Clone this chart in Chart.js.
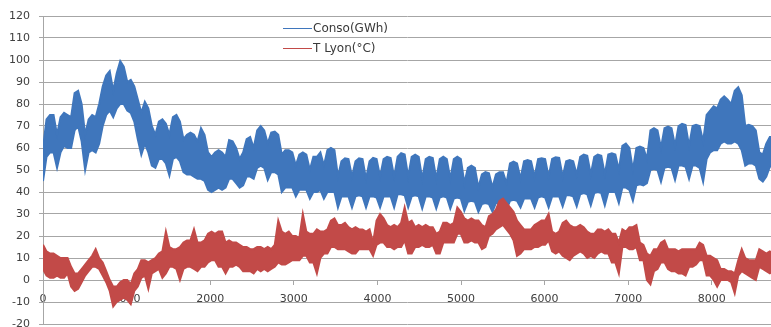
<!DOCTYPE html>
<html>
<head>
<meta charset="utf-8">
<script src="https://cdn.jsdelivr.net/npm/chart.js@4.4.1/dist/chart.umd.min.js"></script>
<style>
html,body{margin:0;padding:0;background:#fff;}
#wrap{position:relative;width:771px;height:327px;}
</style>
</head>
<body>
<div id="wrap"><canvas id="c"></canvas></div>
<script>
// ---- data (one sample every 42 hours) ----
const STEP_HOURS = 42;
const seriesNames = ["Conso(GWh)", "T Lyon(°C)"];
const xTickValues = [0,1000,2000,3000,4000,5000,6000,7000,8000];
const yTickValues = [-20,-10,0,10,20,30,40,50,60,70,80,90,100,110,120];

// consumption, upper edge of the band
const consoHigh = [
60,73,75,75, 66,74,76,75, 74,85,86,80, 66,73,75,74, 80,88,93,95, 86,94,99.5,97,
90,91,88,82, 76,81,78,70, 66,72,73,71, 66,74,75,72, 64,66,67,66, 63,69,66,58,
56,58,59,58, 56,63.6,63,60, 55,58,64,65, 60,68,70,68, 62,67,67.4,66, 57,59,59,58,
52,57,58,57, 50,56,56,58, 52,59,60,59,
47,54,55.3,55, 47,54,55.3,55, 46,54,55.5,55, 47,55,56,55.5, 47,56,57.6,57,
47,56,57,56, 46,55,56,55.5, 46,55,56,55, 46,55,56,55, 44,51,52,51,
42,48,49,48.5, 42,48,49,49, 44,53,53.8,53, 46,54,54.5,54, 47,55,55.3,55,
47,55,55.8,55.5, 47,54,54.5,54, 48,56,57,56.5, 48,56,57,56.5, 48,57,57.6,57,
50,61,62,60, 50,60,60.6,60, 55,68,69,68, 60,69,69.7,69, 61,70,71,70.5,
61,70,70.5,70, 63,75,77,79, 78,82,83.5,82, 80,86,87.6,84, 70,70.5,70,68,
58,57,62,65, 65
];
// consumption, lower edge of the band
const consoLow = [
45,56,58,58, 51,58,61,60, 60,68,70,63, 50,58,59,58, 62,70,75,77, 74,78,80,80,
77,76,72,64, 57,62,58,52, 51,55,55,53, 47.5,55,56,54, 49,48,48,47, 46,46,45,41,
40,41,42,41, 42,46,46,44, 42,43,47,47, 46,51,52,51, 45.5,49,49,48, 40,42,42,42,
38,41,41,41, 37,40,40,41, 37,40,40,40,
33,38,38,38, 33,38,38.5,38, 33,38,38,37.5, 33,38,38,38, 33,39,39,38.5,
33,38,38.5,38, 32.5,38,38,37.5, 32.5,37.5,38,37.5, 32.5,37,37.5,37, 31.5,35.5,36,35.5,
31,34.5,35,34.5, 31,35,35,35, 32,36,36.5,36, 33,37,37,37, 33,37.5,38,37.5,
33,38,38,38, 33.5,38.5,38.5,38, 33.5,39,39.5,39, 34,39.5,40,39.5, 34,40,40,40,
35,42,42,41, 36,43,43.5,43, 44,50,50.5,50, 44.7,51,51.5,51, 45.5,52,52,51.5,
46,52,52,51, 44.7,55,58,59, 59,62,63,62, 62,63,62,59, 52,53,53,52,
46,44.7,47,51.5, 52
];
// Lyon temperature, upper edge of the band
const tempHigh = [
16,13,12,12, 11,10,10,10, 6,3,3,5, 7,9,11,14, 10,8,4,0, -3,-3,-1,0,
0,-2,3,5, 9,9,8,9, 10,12,13,22, 15,14,14,15, 17,18,18,23, 17,17,18,21,
22,21,22,22, 17,18,17,17, 16,15,15,14, 14,15,15,14, 15,14,16,27, 22,21,22,20,
20,19,30,22, 21,21,23,22, 22,23,27,28,
25,25,26,24, 23,24,23,23, 22,23,17,27, 30,28,25,24, 25,24,26,33,
26,27,24,25, 24,25,24,24, 21,22,26,26, 25,26,33,31, 28,27,28,27,
27,25,24,29, 30,32,36,37, 35,33,31,27, 25,23,23,23, 25,26,27,27,
30,22,21,22, 26,27,25,24, 24,25,24,22, 21,21,23,23, 22,23,21,21,
17,23,22,24, 24,25,17,16, 12,11,14,14, 17,18,14,14, 14,13,14,14,
14,14,14,17, 16,11,11,10, 9,5,5,4, 4,3,9,14, 10,9,9,9,
14,13,12,13, 12
];
// Lyon temperature, lower edge of the band
const tempLow = [
5,2,1,1, 2,1,1,3, -3,-5,-4,-1, 2,4,6,6, 5,2,-1,-5, -12,-10,-9,-8,
-9,-11,-5,-3, 1,2,-4,3, 4,5,1,3, 6,6,5,0, 5,6,6,5, 4,6,6,8,
9,9,6,6, 3,6,6,7, 6,4,4,4, 3,5,4,5, 4,5,6,8, 7,7,8,9,
9,9,11,11, 8,8,3,10, 12,12,15,15,
14,14,14,13, 12,12,14,14, 14,14,11,16, 17,17,15,15, 14,15,15,18,
12,12,15,15, 16,15,15,16, 12,12,17,17, 17,17,21,21, 17,17,18,17,
17,14,15,20, 21,23,24,25, 23,21,18,11, 12,14,14,14, 15,15,16,16,
18,13,12,13, 11,10,9,11, 12,13,12,10, 11,10,12,13, 12,12,8,8,
3,15,15,14, 14,15,9,9, 0,-2,4,5, 8,8,5,4, 4,3,3,2,
6,6,7,9, 9,2,2,0, -3,0,0,0, -1,-6,2,4, 3,2,1,0,
6,5,4,3, 4
];

const colors = { conso: '#3F76BC', temp: '#C24A48' };

function toPoints(values) {
  return values.map((v, i) => ({ x: i * STEP_HOURS, y: v }));
}

const legendPlugin = {
  id: 'innerLegend',
  afterDraw(chart) {
    const ctx = chart.ctx;
    const items = [
      { label: seriesNames[0], color: colors.conso },
      { label: seriesNames[1], color: colors.temp }
    ];
    ctx.save();
    items.forEach((it, k) => {
      const y = 28.5 + k * 20;
      ctx.strokeStyle = it.color;
      ctx.lineWidth = 1;
      ctx.beginPath();
      ctx.moveTo(283, y);
      ctx.lineTo(312, y);
      ctx.stroke();
      ctx.fillStyle = '#3a3a3a';
      ctx.font = '12px "DejaVu Sans"';
      ctx.textBaseline = 'middle';
      ctx.textAlign = 'left';
      ctx.fillText(it.label, 313, y + 0.5);
    });
    ctx.restore();
  }
};

const gridColor = '#a6a6a6';
const tickFont = { family: 'DejaVu Sans', size: 11 };

new Chart(document.getElementById('c'), {
  type: 'line',
  data: {
    datasets: [
      { label: seriesNames[0], data: toPoints(consoHigh), borderColor: colors.conso, backgroundColor: colors.conso,
        borderWidth: 2, pointRadius: 0, fill: '+1', order: 1, tension: 0 },
      { label: seriesNames[0] + ' low', data: toPoints(consoLow), borderColor: colors.conso, backgroundColor: colors.conso,
        borderWidth: 2, pointRadius: 0, fill: false, order: 1, tension: 0 },
      { label: seriesNames[1], data: toPoints(tempHigh), borderColor: colors.temp, backgroundColor: colors.temp,
        borderWidth: 2, pointRadius: 0, fill: '+1', order: 0, tension: 0 },
      { label: seriesNames[1] + ' low', data: toPoints(tempLow), borderColor: colors.temp, backgroundColor: colors.temp,
        borderWidth: 2, pointRadius: 0, fill: false, order: 0, tension: 0 }
    ]
  },
  options: {
    responsive: true,
    maintainAspectRatio: false,
    animation: false,
    devicePixelRatio: 1,
    layout: { padding: { top: 16, bottom: 3, left: 0, right: 0 }, autoPadding: false },
    plugins: { legend: { display: false }, tooltip: { enabled: false } },
    scales: {
      x: {
        type: 'linear',
        position: { y: 0 },
        min: 0,
        max: 8708,
        afterBuildTicks: (s) => { s.ticks = xTickValues.map(v => ({ value: v })); },
        afterFit: (s) => { s.height = 0; s.paddingLeft = 0; s.paddingRight = 0; },
        ticks: { font: tickFont, color: '#404040', padding: 9, maxRotation: 0, autoSkip: false,
                 callback: (v) => String(v) },
        grid: { drawOnChartArea: false, drawTicks: true, tickLength: 4, color: gridColor },
        border: { display: true, color: gridColor, width: 1 }
      },
      y: {
        type: 'linear',
        min: -20,
        max: 120,
        afterBuildTicks: (s) => { s.ticks = yTickValues.map(v => ({ value: v })); },
        afterFit: (s) => { s.width = 43; s.paddingTop = 0; s.paddingBottom = 0; },
        ticks: { font: tickFont, color: '#404040', padding: 9, autoSkip: false,
                 callback: (v) => String(v) },
        grid: { color: gridColor, lineWidth: 1, tickLength: 4, drawTicks: true },
        border: { display: true, color: gridColor, width: 1 }
      }
    }
  },
  plugins: [legendPlugin]
});
</script>
</body>
</html>
